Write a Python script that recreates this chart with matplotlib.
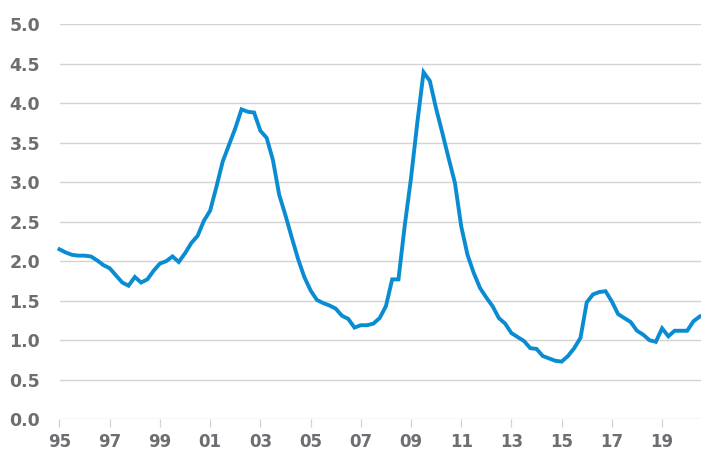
import numpy as np
import matplotlib
matplotlib.use('Agg')
import matplotlib.pyplot as plt

# quarterly series, 1995Q1 .. 2020Q3
start_year = 1995
values = [
    2.15, 2.11, 2.08, 2.07, 2.07, 2.06, 2.01, 1.95,   # 95-96
    1.91, 1.82, 1.73, 1.69, 1.80, 1.73, 1.77, 1.88,   # 97-98
    1.97, 2.00, 2.06, 1.99, 2.10, 2.23, 2.32, 2.51,   # 99-00
    2.64, 2.94, 3.26, 3.47, 3.68, 3.92, 3.89, 3.88,   # 01-02
    3.65, 3.56, 3.28, 2.84, 2.58, 2.30, 2.03, 1.80,   # 03-04
    1.63, 1.51, 1.47, 1.44, 1.40, 1.31, 1.27, 1.16,   # 05-06
    1.19, 1.19, 1.21, 1.28, 1.43, 1.77, 1.77, 2.45,   # 07-08
    3.05, 3.75, 4.39, 4.28, 3.93, 3.62, 3.30, 2.99,   # 09-10
    2.44, 2.08, 1.85, 1.66, 1.54, 1.43, 1.28, 1.21,   # 11-12
    1.09, 1.04, 0.99, 0.90, 0.89, 0.80, 0.77, 0.74,   # 13-14
    0.73, 0.80, 0.90, 1.03, 1.48, 1.58, 1.61, 1.62,   # 15-16
    1.49, 1.33, 1.28, 1.23, 1.12, 1.07, 1.00, 0.98,   # 17-18
    1.15, 1.05, 1.12, 1.12, 1.12, 1.24, 1.30,         # 19-20
]
tick_years = list(range(1995, 2020, 2))
tick_labels = ['%02d' % (y % 100) for y in tick_years]
y_ticks = np.arange(0, 5.01, 0.5)

x = start_year + np.arange(len(values)) / 4.0

grey_txt = '#6d6e71'
grid_col = '#d3d3d3'

fig = plt.figure(figsize=(7.01, 4.51), dpi=100)
ax = fig.add_axes([59.5 / 701, 31.7 / 451, 1 - 59.5 / 701, (419.3 - 24) / 451])

ax.plot(x, values, color='#0a8cd2', lw=2.8, solid_joinstyle='miter', clip_on=False, zorder=3)

ax.set_xlim(1995, 2020.55)
ax.set_ylim(0, 5)
ax.set_yticks(y_ticks)
ax.set_yticklabels(['%.1f' % v for v in y_ticks])
ax.set_xticks(tick_years)
ax.set_xticklabels(tick_labels)

for v in y_ticks:
    ax.axhline(v, color=grid_col, lw=1.0, zorder=1)

for s in ax.spines.values():
    s.set_visible(False)

ax.tick_params(axis='y', length=0, pad=14, labelsize=12.5, labelcolor=grey_txt)
ax.tick_params(axis='x', length=5.5, width=0.9, color=grid_col, pad=4.5,
               labelsize=12, labelcolor=grey_txt)
for lab in ax.get_xticklabels() + ax.get_yticklabels():
    lab.set_fontweight('bold')

plt.savefig('out.png', dpi=100)
